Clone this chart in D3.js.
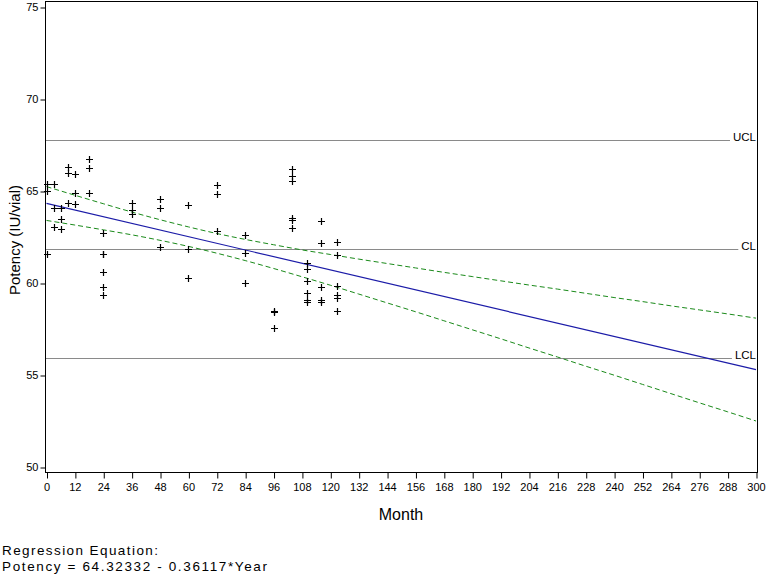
<!DOCTYPE html>
<html><head><meta charset="utf-8">
<script src="https://cdn.jsdelivr.net/npm/d3@7"></script>
<style>body{margin:0;background:#fff}svg{display:block}text{font-family:"Liberation Sans",Arial,sans-serif}</style>
</head><body>
<script>
// Observed data (month, potency)
const months = [0,0,0, 3,3,3, 6,6,6, 9,9,9, 12,12,12, 18,18,18,
  24,24,24,24,24,24, 36,36,36, 48,48,48, 60,60,60, 72,72,72, 84,84,84, 96,96,96,
  104,104,104,104,104,104, 110,110,110,110,110,110, 116,116,116,116,116,
  123,123,123,123,123,123];
const potency = [65.36,65.0,61.58, 65.36,64.06,63.03, 64.06,63.46,62.92, 66.32,65.96,64.36,
  65.92,64.91,64.28, 66.72,66.23,64.87,
  62.73,61.6,61.55,60.61,59.8,59.35, 64.36,63.97,63.75, 64.55,64.09,61.94,
  64.24,61.83,60.29, 65.33,64.82,62.83, 62.61,61.65,60.02, 58.5,58.4,57.54,
  66.2,65.8,65.55,63.55,63.45,63.0, 61.07,60.74,60.11,59.44,59.05,58.95,
  63.37,62.16,59.77,59.05,58.95, 62.21,61.54,59.85,59.35,59.17,58.49];

// Regression line and confidence band (read at 12-month steps)
const bandMonths = [0,12,24,36,48,60,72,84,96,108,120,132,144,156,168,180,192,204,216,228,240,252,264,276,288,300];
const upper = [65.24,64.77,64.31,63.86,63.44,63.05,62.69,62.37,62.08,61.80,61.55,61.30,61.06,60.82,60.58,60.35,60.12,59.89,59.67,59.44,59.21,58.99,58.76,58.54,58.32,58.09];
const lower = [63.40,63.15,62.89,62.62,62.32,61.99,61.62,61.22,60.79,60.34,59.88,59.40,58.92,58.44,57.95,57.46,56.97,56.47,55.98,55.48,54.99,54.49,53.99,53.49,53.00,52.50];
const intercept = 64.32332, slopePerYear = 0.36117;
const fitMonths = [0,300];

// Control limits
const limitNames = ["UCL","CL","LCL"];
const limitValues = [67.76,61.84,55.92];

const xTicks = d3.range(0,301,12);
const yTicks = [50,55,60,65,70,75];

const W=768,H=576;
const svg=d3.select("body").append("svg").attr("width",W).attr("height",H);
const x=d3.scaleLinear().domain([0,300]).range([46.5,756]);
const y=d3.scaleLinear().domain([50,75]).range([467,7]);
const L=45,R=757,T=1,B=472;

// frame
svg.append("rect").attr("x",L+0.5).attr("y",T+0.5).attr("width",R-L).attr("height",B-T)
  .attr("fill","none").attr("stroke","#000").attr("stroke-width",1);

// x axis
const xa=svg.append("g").attr("transform",`translate(0,${B+0.5})`)
  .call(d3.axisBottom(x).tickValues(xTicks).tickSize(6).tickPadding(5).tickSizeOuter(0));
xa.select(".domain").remove();
xa.selectAll("text").attr("font-size",11).attr("font-family","Liberation Sans, Arial, sans-serif");
xa.selectAll("line").attr("transform","translate(0.5,0)");

// y axis
const ya=svg.append("g").attr("transform",`translate(${L+0.5},0)`)
  .call(d3.axisLeft(y).tickValues(yTicks).tickSize(5).tickPadding(2).tickSizeOuter(0));
ya.select(".domain").remove();
ya.selectAll("text").attr("font-size",11).attr("font-family","Liberation Sans, Arial, sans-serif");
ya.selectAll("line").attr("transform","translate(0,0.5)");

// limit lines with labels
limitNames.forEach((n,i)=>{
  const yy=Math.round(y(limitValues[i]))+0.5;
  const t=svg.append("text").attr("x",756).attr("y",yy).attr("text-anchor","end")
    .attr("font-size",11.5).attr("fill","#000").text(n);
  const bb=t.node().getBBox();
  svg.append("line").attr("x1",L+1).attr("x2",bb.x-3).attr("y1",yy).attr("y2",yy)
    .attr("stroke","#8a8a8a").attr("stroke-width",1);
});

// confidence bands
const band=d3.line().x((d,i)=>x(bandMonths[i])).y(d=>y(d)).curve(d3.curveMonotoneX);
[upper,lower].forEach(arr=>{
  svg.append("path").attr("d",band(arr)).attr("fill","none")
    .attr("stroke","#1a8a1a").attr("stroke-width",1).attr("stroke-dasharray","5,3");
});

// regression line
svg.append("line").attr("x1",x(fitMonths[0])).attr("x2",x(fitMonths[1]))
  .attr("y1",y(intercept-slopePerYear*fitMonths[0]/12)).attr("y2",y(intercept-slopePerYear*fitMonths[1]/12))
  .attr("stroke","#1c1ca8").attr("stroke-width",1.2);

// points as plus markers
const pts=svg.append("g");
months.forEach((m,i)=>{
  const px=Math.round(x(m))+0.5, py=Math.round(y(potency[i]))+0.5;
  pts.append("path").attr("d",`M${px-3.5},${py}H${px+3.5}M${px},${py-3.5}V${py+3.5}`)
    .attr("stroke","#000").attr("stroke-width",1.2).attr("fill","none");
});

// axis titles
svg.append("text").attr("x",401).attr("y",520).attr("text-anchor","middle").attr("font-size",16).text("Month");
svg.append("text").attr("transform","translate(20,240) rotate(-90)").attr("text-anchor","middle")
  .attr("font-size",15).text("Potency (IU/vial)");

// regression equation
svg.append("text").attr("x",2).attr("y",555).attr("font-size",13.5)
  .attr("textLength",156).attr("lengthAdjust","spacing").text("Regression Equation:");
svg.append("text").attr("x",2).attr("y",571).attr("font-size",13.5)
  .attr("textLength",265).attr("lengthAdjust","spacing").text("Potency = 64.32332 - 0.36117*Year");
</script>
</body></html>
